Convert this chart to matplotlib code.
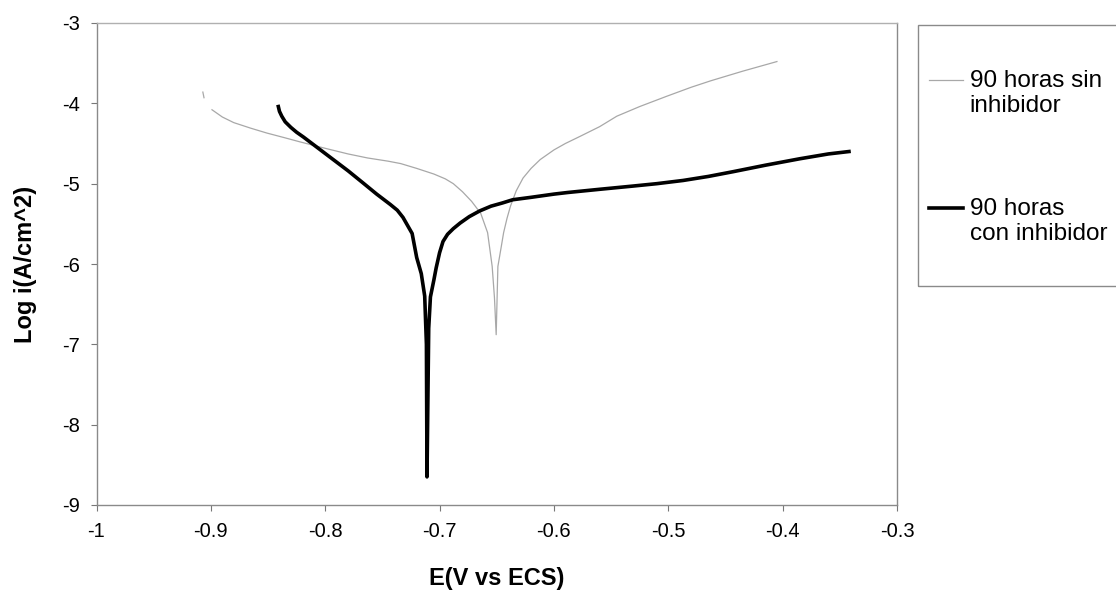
import numpy as np
import matplotlib
matplotlib.use("Agg")
import matplotlib.pyplot as plt
from matplotlib.legend_handler import HandlerLine2D
from matplotlib.patches import Rectangle

plt.rcParams['font.family'] = ['Liberation Sans', 'DejaVu Sans']
plt.rcParams['axes.unicode_minus'] = False

nan = np.nan
# 90 horas sin inhibidor
e_sin = [-0.907, -0.906, nan,
         -0.899, -0.890, -0.880, -0.865, -0.851, -0.835, -0.822, -0.800,
         -0.780, -0.763, -0.745, -0.734, -0.720, -0.705, -0.695, -0.688,
         -0.680, -0.672, -0.664, -0.658, -0.654, -0.652, -0.6505, -0.649,
         -0.646, -0.644, -0.641, -0.638, -0.633, -0.627, -0.620, -0.612,
         -0.600, -0.590, -0.577, -0.560, -0.545, -0.525, -0.501, -0.480,
         -0.463, -0.435, -0.405]
logi_sin = [-3.86, -3.93, nan,
            -4.08, -4.17, -4.24, -4.31, -4.37, -4.43, -4.48, -4.56,
            -4.63, -4.68, -4.72, -4.75, -4.81, -4.88, -4.94, -5.00,
            -5.10, -5.22, -5.37, -5.61, -6.03, -6.42, -6.88, -6.03,
            -5.78, -5.61, -5.43, -5.28, -5.09, -4.93, -4.81, -4.70,
            -4.58, -4.50, -4.41, -4.29, -4.16, -4.04, -3.91, -3.80,
            -3.72, -3.60, -3.48]

# 90 horas con inhibidor
e_con = [-0.841, -0.840, -0.838, -0.835, -0.830, -0.825, -0.819, -0.806,
         -0.793, -0.780, -0.767, -0.755, -0.743, -0.737, -0.732, -0.728,
         -0.724, -0.720, -0.716, -0.713, -0.7115, -0.711, -0.7095, -0.708,
         -0.705, -0.703, -0.700, -0.697, -0.693, -0.688, -0.682, -0.674,
         -0.665, -0.655, -0.645, -0.636, -0.620, -0.600, -0.588, -0.560,
         -0.531, -0.510, -0.487, -0.465, -0.443, -0.415, -0.385, -0.360,
         -0.342]
logi_con = [-4.04, -4.10, -4.16, -4.23, -4.30, -4.36, -4.42, -4.56,
            -4.70, -4.84, -4.99, -5.13, -5.26, -5.33, -5.42, -5.52,
            -5.62, -5.92, -6.12, -6.40, -7.00, -8.65, -6.80, -6.41,
            -6.20, -6.05, -5.86, -5.72, -5.63, -5.56, -5.49, -5.41,
            -5.34, -5.28, -5.24, -5.20, -5.17, -5.13, -5.11, -5.07,
            -5.03, -5.00, -4.96, -4.91, -4.85, -4.77, -4.69, -4.63,
            -4.60]

labels = ["90 horas sin\ninhibidor", "90 horas\ncon inhibidor"]
x_ticks = [-1, -0.9, -0.8, -0.7, -0.6, -0.5, -0.4, -0.3]
x_ticklabels = ["-1", "-0.9", "-0.8", "-0.7", "-0.6", "-0.5", "-0.4", "-0.3"]
y_ticks = [-9, -8, -7, -6, -5, -4, -3]

fig = plt.figure(figsize=(11.16, 5.98), dpi=100)
ax = fig.add_axes([96.5 / 1116, 1 - 505 / 598, 800.5 / 1116, 482 / 598])

l1, = ax.plot(e_sin, logi_sin, color="#a8a8a8", lw=0.9, label=labels[0])
l2, = ax.plot(e_con, logi_con, color="black", lw=2.6, label=labels[1])

ax.set_xlim(-1, -0.3)
ax.set_ylim(-9, -3)
ax.set_xticks(x_ticks)
ax.set_xticklabels(x_ticklabels)
ax.set_yticks(y_ticks)
ax.tick_params(axis="both", direction="out", length=4, width=0.8,
               color="#777777", labelsize=14.5, pad=8)
for side in ["left", "bottom", "right", "top"]:
    ax.spines[side].set_color("#8a8a8a")
    ax.spines[side].set_linewidth(1.0)
ax.spines["top"].set_color("#b0b0b0")

ax.set_xlabel("E(V vs ECS)", fontsize=17, fontweight="bold")
ax.set_ylabel("Log i(A/cm^2)", fontsize=17, fontweight="bold")
ax.xaxis.set_label_coords(0.5, -0.128)
ax.yaxis.set_label_coords(-0.074, 0.5)


class TopHandler(HandlerLine2D):
    def create_artists(self, legend, orig_handle, xdescent, ydescent,
                       width, height, fontsize, trans):
        arts = super().create_artists(legend, orig_handle, xdescent, ydescent,
                                      width, height, fontsize, trans)
        for a in arts:
            if hasattr(a, "get_ydata"):
                a.set_ydata(np.asarray(a.get_ydata(), float) + 0.55 * fontsize)
        return arts


# legend frame (extends past the right edge as in the reference)
fig.add_artist(Rectangle((918 / 1116, 1 - 286 / 598), (1130 - 918) / 1116,
                         (286 - 25) / 598, transform=fig.transFigure,
                         fill=False, edgecolor="#8a8a8a", linewidth=1.0))

leg = fig.legend(handles=[l1, l2], loc="upper left",
                 bbox_to_anchor=(929 / 1116, 1 - 70 / 598),
                 fontsize=17.5, frameon=False,
                 handlelength=1.4, handletextpad=0.28, borderpad=0,
                 labelspacing=3.3, borderaxespad=0,
                 handler_map={matplotlib.lines.Line2D: TopHandler()})

fig.savefig("out.png", dpi=100)
